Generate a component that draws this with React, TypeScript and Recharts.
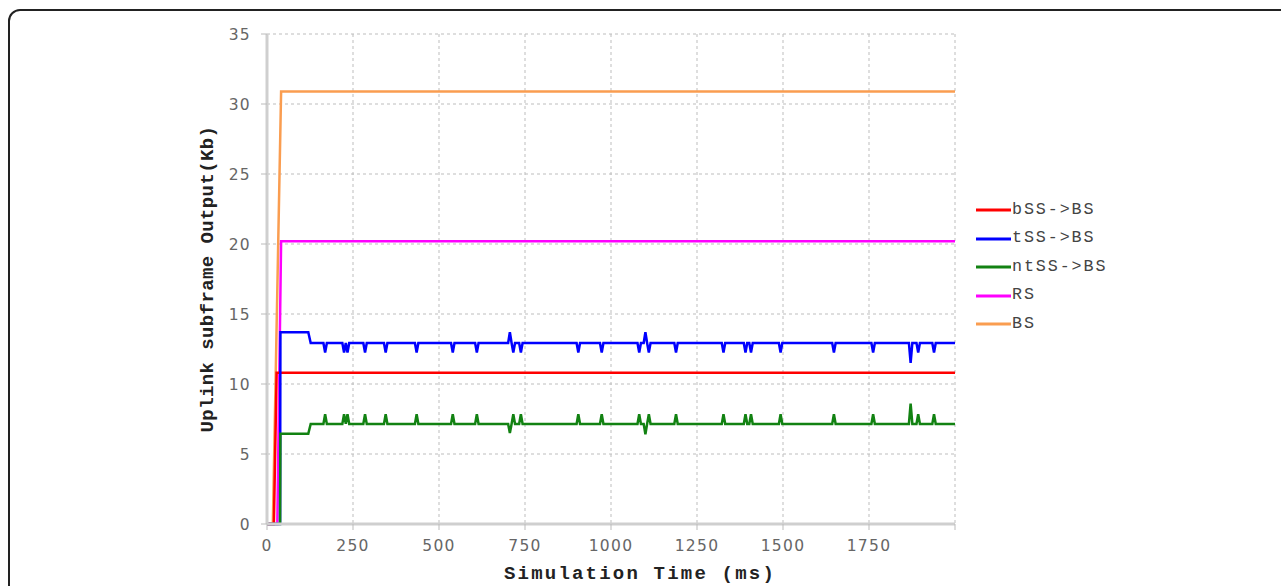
import { LineChart, Line, XAxis, YAxis, CartesianGrid, Legend, Label } from 'recharts'

// ── Axes ──────────────────────────────────────────────────────────────────────

const X_TICKS = [0, 250, 500, 750, 1000, 1250, 1500, 1750, 2000]
const Y_TICKS = [0, 5, 10, 15, 20, 25, 30, 35]

// ── Series (time in ms, output in Kb) ─────────────────────────────────────────

const BS_T  = [0, 17, 41, 2000]
const BS_V  = [0, 0, 30.9, 30.9]
const RS_T  = [0, 30, 41, 2000]
const RS_V  = [0, 0, 20.2, 20.2]
const BSS_T = [0, 20, 28, 2000]
const BSS_V = [0, 0, 10.8, 10.8]

// start-up steps of tSS / ntSS
const STEP_T    = [0, 38, 39, 120, 127]
const TSS_STEP  = [0, 0, 13.7, 13.7, 12.93]
const NTSS_STEP = [0, 0, 6.45, 6.45, 7.15]
const TSS_BASE  = 12.93
const NTSS_BASE = 7.15

// short spikes on top of the steady level
const SPIKE_T = [
  169, 224, 234, 285, 345, 435, 540, 610, 706, 716, 738, 905, 973,
  1082, 1100, 1110, 1189, 1327, 1391, 1407, 1493, 1648, 1762, 1871, 1893, 1939,
]
const TSS_PEAK = [
  12.25, 12.25, 12.25, 12.25, 12.25, 12.25, 12.25, 12.25, 13.7, 12.25, 12.25, 12.25, 12.25,
  12.25, 13.7, 12.25, 12.25, 12.25, 12.25, 12.25, 12.25, 12.25, 12.25, 11.5, 12.25, 12.25,
]
const NTSS_PEAK = [
  7.85, 7.85, 7.85, 7.85, 7.85, 7.85, 7.85, 7.85, 6.5, 7.85, 7.85, 7.85, 7.85,
  7.85, 6.4, 7.85, 7.85, 7.85, 7.85, 7.85, 7.85, 7.85, 7.85, 8.6, 7.85, 7.85,
]
const SPIKE_HALF = 5

const RED     = '#ff0000'
const BLUE    = '#0000ff'
const GREEN   = '#128212'
const MAGENTA = '#ff00ff'
const ORANGE  = '#fa9d50'

const LEGEND_ITEMS = [
  { name: 'bSS->BS',  color: RED },
  { name: 'tSS->BS',  color: BLUE },
  { name: 'ntSS->BS', color: GREEN },
  { name: 'RS',       color: MAGENTA },
  { name: 'BS',       color: ORANGE },
]

interface Pt { t: number; v: number }

function zip(ts: number[], vs: number[]): Pt[] {
  return ts.map((t, i) => ({ t, v: vs[i] }))
}

function withSpikes(stepV: number[], base: number, peaks: number[]): Pt[] {
  const pts = zip(STEP_T, stepV)
  SPIKE_T.forEach((t, i) => {
    pts.push({ t: t - SPIKE_HALF, v: base }, { t, v: peaks[i] }, { t: t + SPIKE_HALF, v: base })
  })
  pts.push({ t: 2000, v: base })
  return pts
}

const bsData   = zip(BS_T, BS_V)
const rsData   = zip(RS_T, RS_V)
const bssData  = zip(BSS_T, BSS_V)
const tssData  = withSpikes(TSS_STEP, TSS_BASE, TSS_PEAK)
const ntssData = withSpikes(NTSS_STEP, NTSS_BASE, NTSS_PEAK)

// ── Legend / titles ───────────────────────────────────────────────────────────

const LEGEND_W = 200

function SeriesLegend() {
  return (
    <div>
      {LEGEND_ITEMS.map(it => (
        <div key={it.name} style={{ display: 'flex', alignItems: 'center', height: 28.5 }}>
          <svg width={35} height={6}>
            <line x1={0} y1={3} x2={35} y2={3} stroke={it.color} strokeWidth={3} />
          </svg>
          <span style={{
            marginLeft: 1, fontFamily: '"Liberation Mono", monospace', fontSize: 16.7,
            letterSpacing: 1.9, color: '#444', lineHeight: 1,
          }}>
            {it.name}
          </span>
        </div>
      ))}
    </div>
  )
}

const titleStyle = {
  fontFamily: '"Liberation Mono", monospace',
  fontWeight: 'bold' as const,
  fontSize: 19,
  fill: '#222',
}

function XTitle(props: any) {
  const vb = props.viewBox
  return (
    <text x={vb.x + vb.width / 2 + 29} y={579} textAnchor="middle" style={{ ...titleStyle, letterSpacing: 2.2 }}>
      Simulation Time (ms)
    </text>
  )
}

function YTitle(props: any) {
  const vb = props.viewBox
  const cx = 213
  const cy = vb.y + vb.height / 2
  return (
    <text x={cx} y={cy} textAnchor="middle" transform={`rotate(-90, ${cx}, ${cy})`} style={{ ...titleStyle, letterSpacing: 0.4 }}>
      Uplink subframe Output(Kb)
    </text>
  )
}

const tickStyle = { fontFamily: '"DejaVu Sans", sans-serif', fontSize: 15.5, fill: '#666', letterSpacing: 1.3 }

// ── Main ──────────────────────────────────────────────────────────────────────

export default function App() {
  return (
    <div style={{ position: 'fixed', left: 0, top: 0, width: 1281, height: 586, overflow: 'hidden', background: '#fff' }}>
      <div style={{
        position: 'absolute', left: 8, top: 9, width: 1320, height: 640,
        border: '2px solid #222', borderRadius: 12,
      }} />
      <div style={{ position: 'absolute', left: 0, top: 0 }}>
        {/* the legend box width is added to the right margin by recharts */}
        <LineChart width={1281} height={586} margin={{ top: 34, right: 326 - LEGEND_W, bottom: 0, left: 0 }}>
          <CartesianGrid strokeDasharray="3 3" stroke="#bdbdbd" />
          <XAxis
            dataKey="t"
            type="number"
            domain={[0, 2000]}
            ticks={X_TICKS}
            tickFormatter={v => (v === 2000 ? '' : String(v))}
            height={62}
            tick={tickStyle}
            tickSize={6}
            tickMargin={10}
            tickLine={{ stroke: '#bbb' }}
            axisLine={{ stroke: '#cfcfcf', strokeWidth: 3 }}
          >
            <Label content={XTitle} />
          </XAxis>
          <YAxis
            type="number"
            domain={[0, 35]}
            ticks={Y_TICKS}
            width={267}
            tick={tickStyle}
            tickSize={6}
            tickMargin={10}
            tickLine={{ stroke: '#bbb' }}
            axisLine={{ stroke: '#cfcfcf', strokeWidth: 3 }}
          >
            <Label content={YTitle} />
          </YAxis>
          <Legend
            layout="horizontal"
            verticalAlign="middle"
            align="right"
            content={() => <SeriesLegend />}
            wrapperStyle={{ left: 976, top: 196, width: LEGEND_W, right: 'auto' }}
          />
          <Line data={bsData}   dataKey="v" name="BS"       type="linear" stroke={ORANGE}  strokeWidth={2.5} dot={false} isAnimationActive={false} />
          <Line data={rsData}   dataKey="v" name="RS"       type="linear" stroke={MAGENTA} strokeWidth={2.5} dot={false} isAnimationActive={false} />
          <Line data={bssData}  dataKey="v" name="bSS->BS"  type="linear" stroke={RED}     strokeWidth={2.5} dot={false} isAnimationActive={false} />
          <Line data={tssData}  dataKey="v" name="tSS->BS"  type="linear" stroke={BLUE}    strokeWidth={2.5} dot={false} isAnimationActive={false} />
          <Line data={ntssData} dataKey="v" name="ntSS->BS" type="linear" stroke={GREEN}   strokeWidth={2.5} dot={false} isAnimationActive={false} />
        </LineChart>
      </div>
    </div>
  )
}
